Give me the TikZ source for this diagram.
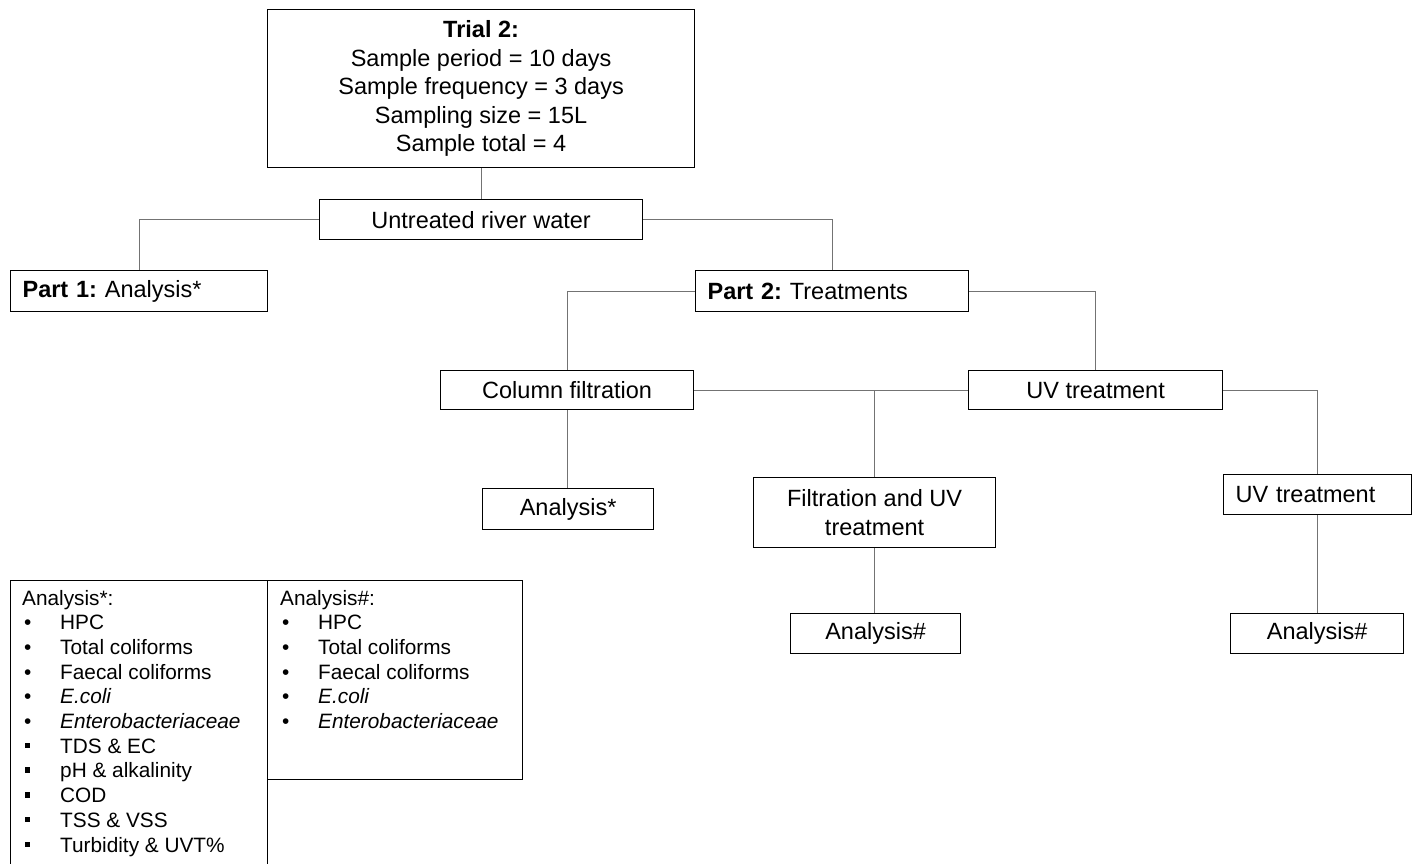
\documentclass[tikz,border=0pt]{standalone}
\usepackage{fontspec}
\setmainfont{Liberation Sans}
\usetikzlibrary{positioning}
\frenchspacing
\newcommand\rbul{\makebox[38pt][l]{\hspace{2pt}\textbullet}}
\newcommand\sbul{\makebox[38pt][l]{\hspace{2.5pt}\rule[5pt]{5.5pt}{5.5pt}}}
\tikzset{
  box/.style={draw=black, line width=1.2pt, anchor=north west, inner sep=0pt,
    font=\fontsize{23.5}{28.5}\selectfont, align=center},
  lbox/.style={box, inner xsep=12pt, align=left},
  conn/.style={draw=black!55, line width=1.1pt},
  legbox/.style={draw=black, line width=1.1pt, anchor=north west, inner sep=0pt},
  legtext/.style={anchor=base west, inner sep=0pt, font=\fontsize{20.8}{24.7}\selectfont}
}
\begin{document}
\frenchspacing
\begin{tikzpicture}[x=1pt,y=-1pt]
\useasboundingbox (0,0) rectangle (1416,863);
% boxes
\node[box, minimum width=427, minimum height=158] (trial) at (267,9)
  {\textbf{Trial 2:}\\Sample period = 10 days\\Sample frequency = 3 days\\Sampling size = 15L\\Sample total = 4};
\node[box, minimum width=323, minimum height=40] (untreated) at (319,199) {Untreated river water};
\node[lbox, minimum width=257, minimum height=41, text width=233] (part1) at (10,270) {\frenchspacing\textbf{Part 1:} Analysis*};
\node[lbox, minimum width=273, minimum height=41, text width=249] (part2) at (695,270) {\frenchspacing\textbf{Part 2:} Treatments};
\node[box, minimum width=253, minimum height=39] (colf) at (440,370) {Column filtration};
\node[box, minimum width=254, minimum height=39] (uv1) at (968,370) {UV treatment};
\node[box, minimum width=171, minimum height=41] (ana1) at (482,488) {Analysis*};
\node[box, minimum width=242, minimum height=70] (fuv) at (753,477) {Filtration and UV\\treatment};
\node[lbox, minimum width=188, minimum height=40, text width=164] (uv2) at (1223,474) {UV treatment};
\node[box, minimum width=170, minimum height=40] (ana2) at (790,613) {Analysis\#};
\node[box, minimum width=173, minimum height=40] (ana3) at (1230,613) {Analysis\#};
% legend boxes
\node[legbox, minimum width=257, minimum height=292] (leg1) at (10,580) {};
\node[legbox, minimum width=255, minimum height=199] (leg2) at (267,580) {};
\node[legtext] (leg1t) at (22,605) {\begin{tabular}[t]{@{}l@{}}
Analysis*:\\
\rbul HPC\\
\rbul Total coliforms\\
\rbul Faecal coliforms\\
\rbul \textit{E.coli}\\
\rbul \textit{Enterobacteriaceae}\\
\sbul TDS \& EC\\
\sbul pH \& alkalinity\\
\sbul COD\\
\sbul TSS \& VSS\\
\sbul Turbidity \& UVT\%
\end{tabular}};
\node[legtext] (leg2t) at (280,605) {\begin{tabular}[t]{@{}l@{}}
Analysis\#:\\
\rbul HPC\\
\rbul Total coliforms\\
\rbul Faecal coliforms\\
\rbul \textit{E.coli}\\
\rbul \textit{Enterobacteriaceae}
\end{tabular}};
% connectors
\draw[conn] (trial.south) -- (untreated.north);
\draw[conn] (untreated.west) -| (part1.north);
\draw[conn] (untreated.east) -| (part2.north);
\draw[conn] (part2.west) -| (colf.north);
\draw[conn] (part2.east) -| (uv1.north);
\draw[conn] (colf.east) -- (uv1.west);
\coordinate (j1) at (fuv.north |- colf.east);
\draw[conn] (j1) -- (fuv.north);
\draw[conn] (colf.south) -- (colf.south |- ana1.north);
\draw[conn] (uv1.east) -| (uv2.north);
\draw[conn] (fuv.south) -- (fuv.south |- ana2.north);
\draw[conn] (uv2.south) -- (uv2.south |- ana3.north);
\end{tikzpicture}
\end{document}
